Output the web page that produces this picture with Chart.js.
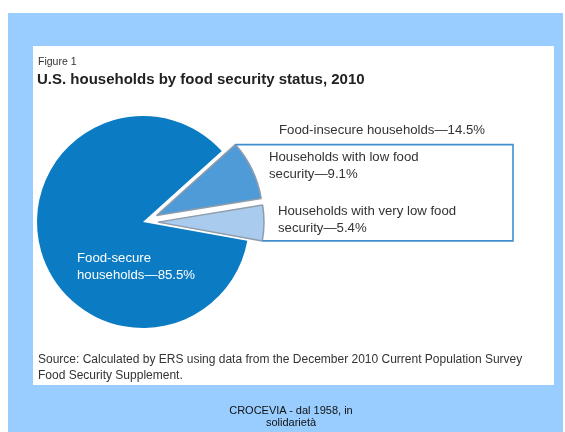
<!DOCTYPE html>
<html>
<head>
<meta charset="utf-8">
<script src="https://cdn.jsdelivr.net/npm/chart.js@4"></script>
<style>
  html, body { margin: 0; padding: 0; background: #fff; }
  body { width: 565px; height: 432px; position: relative; overflow: hidden;
         font-family: "Liberation Sans", Arial, sans-serif; }
  #bg { position: absolute; left: 8px; top: 13px; width: 555px; height: 419px; background: #99ccff; }
  #panel { position: absolute; left: 33px; top: 46px; width: 521px; height: 339px; background: #fff; }
  #chart { position: absolute; left: 0; top: 0; }
  .t { position: absolute; white-space: nowrap; color: #333; }
  .lbl { font-size: 13.2px; line-height: 17px; }
  .foot { position: absolute; left: 8px; width: 566px; text-align: center; font-size: 11px; line-height: 11.5px; color: #111; }
</style>
</head>
<body>
<div id="bg"></div>
<div id="panel"></div>
<canvas id="chart" width="565" height="432"></canvas>

<div class="t" style="left:38px; top:55px; font-size:10.5px;">Figure 1</div>
<div class="t" style="left:37px; top:70px; font-size:15px; font-weight:bold; color:#222;">U.S. households by food security status, 2010</div>

<div class="t lbl" style="left:279px; top:121px;">Food-insecure households—14.5%</div>
<div class="t lbl" style="left:269px; top:148px;">Households with low food<br>security—9.1%</div>
<div class="t lbl" style="left:278px; top:202px;">Households with very low food<br>security—5.4%</div>
<div class="t lbl" style="left:77px; top:249px; color:#fff;">Food-secure<br>households—85.5%</div>

<div class="t" style="left:38px; top:351px; font-size:12px; line-height:16px;">Source: Calculated by ERS using data from the December 2010 Current Population Survey<br>Food Security Supplement.</div>

<div class="foot" style="top:405px;">CROCEVIA - dal 1958, in<br>solidarietà</div>

<script>
const categories = ["Households with low food security", "Households with very low food security", "Food-secure households"];
const shares = [9.1, 5.4, 85.5];
const sliceColors = ["#4f9bd8", "#a9cbee", "#0b7cc4"];
const explode = [15, 15, 0];

// pull the food-insecure slices out of the pie along their mid angle
const explodeSlices = {
  id: "explodeSlices",
  afterDatasetsUpdate(chart) {
    chart.getDatasetMeta(0).data.forEach((arc, i) => {
      const d = explode[i] || 0;
      if (!d) return;
      const mid = (arc.startAngle + arc.endAngle) / 2;
      arc.x += Math.cos(mid) * d;
      arc.y += Math.sin(mid) * d;
    });
  }
};

// connector box from the exploded slices to the labels
const bracket = {
  id: "bracket",
  afterDatasetsDraw(chart) {
    const arcs = chart.getDatasetMeta(0).data;
    const corner = (arc, angle) => ({
      x: arc.x + Math.cos(angle) * arc.outerRadius,
      y: arc.y + Math.sin(angle) * arc.outerRadius
    });
    const top = corner(arcs[0], arcs[0].startAngle);
    const bot = corner(arcs[1], arcs[1].endAngle);
    const right = 513;
    const ctx = chart.ctx;
    ctx.save();
    ctx.strokeStyle = "#3f8fcf";
    ctx.lineWidth = 1.6;
    ctx.beginPath();
    ctx.moveTo(top.x, top.y);
    ctx.lineTo(right, top.y);
    ctx.lineTo(right, bot.y);
    ctx.lineTo(bot.x, bot.y);
    ctx.stroke();
    ctx.restore();
  }
};

new Chart(document.getElementById("chart"), {
  type: "pie",
  data: {
    labels: categories,
    datasets: [{
      data: shares,
      backgroundColor: sliceColors,
      borderColor: ["#8e9cab", "#8e9cab", "#ffffff"],
      borderWidth: [1.5, 1.5, 0]
    }]
  },
  options: {
    responsive: false,
    animation: false,
    rotation: 48,
    radius: 106,
    layout: { padding: { left: 0, right: 279, top: 12, bottom: 0 } },
    plugins: { legend: { display: false }, tooltip: { enabled: false } }
  },
  plugins: [explodeSlices, bracket]
});
</script>
</body>
</html>
